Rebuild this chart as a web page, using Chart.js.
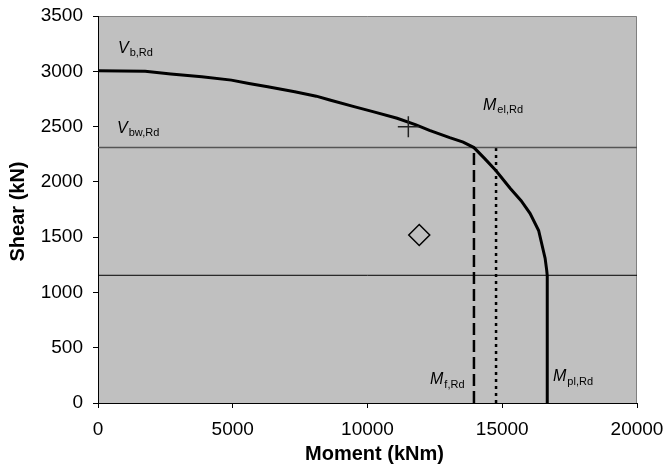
<!DOCTYPE html>
<html>
<head>
<meta charset="utf-8">
<script src="https://cdn.jsdelivr.net/npm/chart.js@4.4.0/dist/chart.umd.min.js"></script>
<style>
  html, body { margin: 0; background: #fff; }
  canvas { display: block; }
</style>
</head>
<body>
<canvas id="chart" width="664" height="475"></canvas>
<script>
// M-V interaction curve (moment kNm, shear kN)
const curveM = [0, 1750, 2700, 3850, 4950, 5600, 6300, 7300, 8100, 8600, 9500, 10200, 11100, 11800, 12300, 13050, 13550, 13950, 14350, 14770, 15300, 15700, 16030, 16350, 16590, 16650, 16670, 16670];
const curveV = [3005, 3000, 2975, 2950, 2920, 2890, 2860, 2815, 2775, 2740, 2680, 2635, 2575, 2515, 2465, 2400, 2360, 2310, 2210, 2100, 1940, 1830, 1715, 1560, 1310, 1200, 1150, 0];

const vbwRd = 2310;   // upper horizontal line
const vHalf = 1155;   // lower horizontal line
const mfRd = 13950;   // dashed vertical
const melRd = 14770;  // dotted vertical

const plusPoint = [11515, 2498];
const diamondPoint = [11920, 1519];

const xTicks = [0, 5000, 10000, 15000, 20000];
const yTicks = [0, 500, 1000, 1500, 2000, 2500, 3000, 3500];

// annotation labels: main letter, subscript, data position (left, middle)
const labelMain = ['V', 'V', 'M', 'M', 'M'];
const labelSub = ['b,Rd', 'bw,Rd', 'el,Rd', 'f,Rd', 'pl,Rd'];
const labelX = [742, 705, 14286, 12319, 16883];
const labelY = [3210, 2486, 2694, 208, 235];

const FONT = "'Liberation Sans', Arial, sans-serif";

const plotBg = {
  id: 'plotBg',
  beforeDraw(chart) {
    const { ctx, chartArea: a } = chart;
    ctx.save();
    ctx.fillStyle = '#c0c0c0';
    ctx.fillRect(a.left, a.top, a.right - a.left, a.bottom - a.top);
    ctx.strokeStyle = '#808080';
    ctx.lineWidth = 1;
    ctx.beginPath();
    ctx.moveTo(a.left, a.top + 0.5);
    ctx.lineTo(a.right - 0.5, a.top + 0.5);
    ctx.lineTo(a.right - 0.5, a.bottom);
    ctx.stroke();
    ctx.restore();
  }
};

const annotations = {
  id: 'annotations',
  afterDatasetsDraw(chart) {
    const { ctx, scales } = chart;
    ctx.save();
    ctx.fillStyle = '#000';
    ctx.textBaseline = 'middle';
    ctx.textAlign = 'left';
    labelMain.forEach((m, i) => {
      const px = scales.x.getPixelForValue(labelX[i]);
      const py = scales.y.getPixelForValue(labelY[i]);
      ctx.font = 'italic 16px ' + FONT;
      ctx.fillText(m, px, py);
      const w = ctx.measureText(m).width;
      ctx.font = '11px ' + FONT;
      ctx.fillText(labelSub[i], px + w + 1, py + 5);
    });
    ctx.restore();
  },
  afterDraw(chart) {
    const { ctx, chartArea: a } = chart;
    ctx.save();
    ctx.fillStyle = '#000';
    ctx.font = 'bold 20px ' + FONT;
    ctx.textAlign = 'center';
    ctx.textBaseline = 'middle';
    ctx.fillText('Moment (kNm)', (a.left + a.right) / 2 + 7, 454);
    ctx.translate(18, (a.top + a.bottom) / 2 + 2);
    ctx.rotate(-Math.PI / 2);
    ctx.fillText('Shear (kN)', 0, 0);
    ctx.restore();
  }
};

const curveData = curveM.map((m, i) => ({ x: m, y: curveV[i] }));

new Chart(document.getElementById('chart'), {
  type: 'scatter',
  data: {
    datasets: [
      {
        data: [{ x: plusPoint[0], y: plusPoint[1] }],
        pointStyle: 'cross', pointRadius: 10.5,
        borderColor: '#222', borderWidth: 1.5
      },
      {
        data: [{ x: diamondPoint[0], y: diamondPoint[1] }],
        pointStyle: 'rectRot', pointRadius: 10.5,
        backgroundColor: 'rgba(0,0,0,0)', borderColor: '#000', borderWidth: 1.5
      },
      {
        data: curveData, showLine: true, pointRadius: 0,
        borderColor: '#000', borderWidth: 3, tension: 0
      },
      {
        data: [{ x: 0, y: vbwRd }, { x: 20000, y: vbwRd }], showLine: true, pointRadius: 0,
        borderColor: '#555', borderWidth: 1.5
      },
      {
        data: [{ x: 0, y: vHalf }, { x: 20000, y: vHalf }], showLine: true, pointRadius: 0,
        borderColor: '#000', borderWidth: 1
      },
      {
        data: [{ x: mfRd, y: 0 }, { x: mfRd, y: vbwRd }], showLine: true, pointRadius: 0,
        borderColor: '#000', borderWidth: 2.5, borderDash: [12, 5]
      },
      {
        data: [{ x: melRd, y: 0 }, { x: melRd, y: vbwRd }], showLine: true, pointRadius: 0,
        borderColor: '#000', borderWidth: 2.5, borderDash: [3, 4]
      }
    ]
  },
  options: {
    responsive: false,
    animation: false,
    layout: { padding: { left: 0, right: 27, top: 16, bottom: 0 } },
    plugins: { legend: { display: false }, tooltip: { enabled: false } },
    scales: {
      x: {
        type: 'linear', min: 0, max: 20000,
        afterBuildTicks(s) { s.ticks = xTicks.map(v => ({ value: v })); },
        afterFit(s) { s.height = 72; s.paddingLeft = 0; s.paddingRight = 0; },
        ticks: { color: '#000', font: { family: FONT, size: 19 }, padding: 10, maxRotation: 0, autoSkip: false,
                 callback: v => String(v) },
        grid: { drawOnChartArea: false, drawTicks: true, tickLength: 5, tickColor: '#000' },
        border: { color: '#000', width: 1 }
      },
      y: {
        type: 'linear', min: 0, max: 3500,
        afterBuildTicks(s) { s.ticks = yTicks.map(v => ({ value: v })); },
        afterFit(s) { s.width = 98; s.paddingTop = 0; s.paddingBottom = 0; },
        ticks: { color: '#000', font: { family: FONT, size: 19 }, padding: 10, autoSkip: false,
                 callback: v => String(v) },
        grid: { drawOnChartArea: false, drawTicks: true, tickLength: 5, tickColor: '#000' },
        border: { color: '#000', width: 1 }
      }
    }
  },
  plugins: [plotBg, annotations]
});
</script>
</body>
</html>
